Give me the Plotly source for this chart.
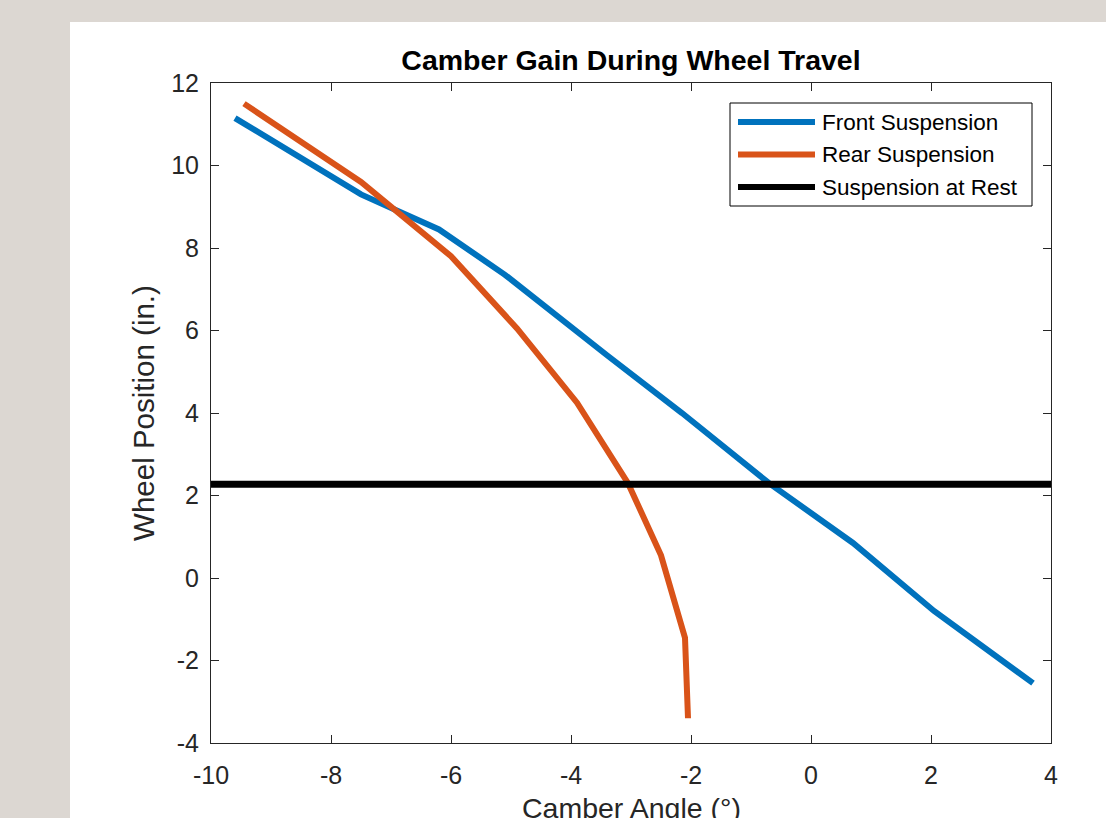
import plotly.graph_objects as go

# Data
front_x = [-9.6, -7.5, -6.2, -5.1, -3.4, -2.15, -0.7, 0.7, 2.05, 3.7]
front_y = [11.15, 9.3, 8.45, 7.35, 5.4, 4.0, 2.3, 0.85, -0.8, -2.55]

rear_x = [-9.45, -7.5, -6.0, -4.9, -3.9, -3.05, -2.5, -2.1, -2.05]
rear_y = [11.5, 9.6, 7.8, 6.05, 4.25, 2.3, 0.55, -1.45, -3.4]

rest_x = [-10, 4]
rest_y = [2.27, 2.27]

x_ticks = [-10, -8, -6, -4, -2, 0, 2, 4]
y_ticks = [-4, -2, 0, 2, 4, 6, 8, 10, 12]

series_names = ["Front Suspension", "Rear Suspension", "Suspension at Rest"]
series_colors = ["#0072BD", "#D95319", "#000000"]
series_widths = [6, 6, 7]

FONT = "Liberation Sans, Arial, sans-serif"
AXC = "#262626"

fig = go.Figure()
for xs, ys, nm, col, lw in zip([front_x, rear_x, rest_x], [front_y, rear_y, rest_y],
                                series_names, series_colors, series_widths):
    fig.add_trace(go.Scatter(x=xs, y=ys, mode="lines", name=nm,
                             line=dict(color=col, width=lw), showlegend=False))

W, H = 1106, 818
L, R, T, B = 211, 55, 83, 75
pw, ph = W - L - R, H - T - B

def px_to_paper_x(px):
    return (px - L) / pw

def px_to_paper_y(py):
    return (H - B - py) / ph

shapes = [dict(type="rect", xref="paper", yref="paper",
               x0=px_to_paper_x(70), x1=px_to_paper_x(W + 5),
               y0=px_to_paper_y(H + 5), y1=px_to_paper_y(22),
               fillcolor="white", line=dict(width=0), layer="below")]

# Custom legend (MATLAB style: long line samples)
shapes.append(dict(type="rect", xref="paper", yref="paper",
                   x0=px_to_paper_x(730), x1=px_to_paper_x(1032),
                   y0=px_to_paper_y(206), y1=px_to_paper_y(103),
                   fillcolor="white", line=dict(color="#000000", width=1), layer="above"))
annotations = []
row_y = [122, 154.5, 187]
for ry, nm, col, lw in zip(row_y, series_names, series_colors, series_widths):
    shapes.append(dict(type="line", xref="paper", yref="paper",
                       x0=px_to_paper_x(738), x1=px_to_paper_x(815),
                       y0=px_to_paper_y(ry), y1=px_to_paper_y(ry),
                       line=dict(color=col, width=6), layer="above"))
    annotations.append(dict(text=nm, xref="paper", yref="paper",
                            x=px_to_paper_x(820), y=px_to_paper_y(ry),
                            xanchor="left", yanchor="middle", showarrow=False,
                            font=dict(family=FONT, size=22.5, color="#000000")))

# X-axis title, placed as low as in the reference (partly below the page edge)
annotations.append(dict(text="Camber Angle (°)", xref="paper", yref="paper",
                        x=0.5, y=px_to_paper_y(808), xanchor="center", yanchor="middle",
                        showarrow=False, font=dict(family=FONT, size=28.5, color=AXC)))

fig.update_layout(
    width=W, height=H,
    margin=dict(l=L, r=R, t=T, b=B, autoexpand=False),
    paper_bgcolor="#dcd7d2",
    plot_bgcolor="white",
    font=dict(family=FONT, size=25, color=AXC),
    showlegend=False,
    title=dict(text="<b>Camber Gain During Wheel Travel</b>",
               font=dict(family=FONT, size=28.5, color="#000000"),
               x=0.5, xref="paper", xanchor="center",
               y=1 - 60 / H, yref="container", yanchor="middle"),
    shapes=shapes,
    annotations=annotations,
)

fig.update_xaxes(range=[-10, 4], tickvals=x_ticks, ticktext=[str(v) for v in x_ticks],
                 showgrid=False, zeroline=False, showline=True, linecolor=AXC, linewidth=1,
                 mirror="ticks", ticks="inside", ticklen=8, tickcolor=AXC,
                 tickfont=dict(family=FONT, size=25, color=AXC), ticklabelstandoff=10)
fig.update_yaxes(range=[-4, 12], tickvals=y_ticks, ticktext=[str(v) for v in y_ticks],
                 showgrid=False, zeroline=False, showline=True, linecolor=AXC, linewidth=1,
                 mirror="ticks", ticks="inside", ticklen=8, tickcolor=AXC,
                 tickfont=dict(family=FONT, size=25, color=AXC), ticklabelstandoff=6,
                 title=dict(text="Wheel Position (in.)", font=dict(family=FONT, size=29.5, color=AXC),
                            standoff=7))

fig.write_html("out.html", config={"displayModeBar": False},
               post_script="document.body.style.margin='0px';")
